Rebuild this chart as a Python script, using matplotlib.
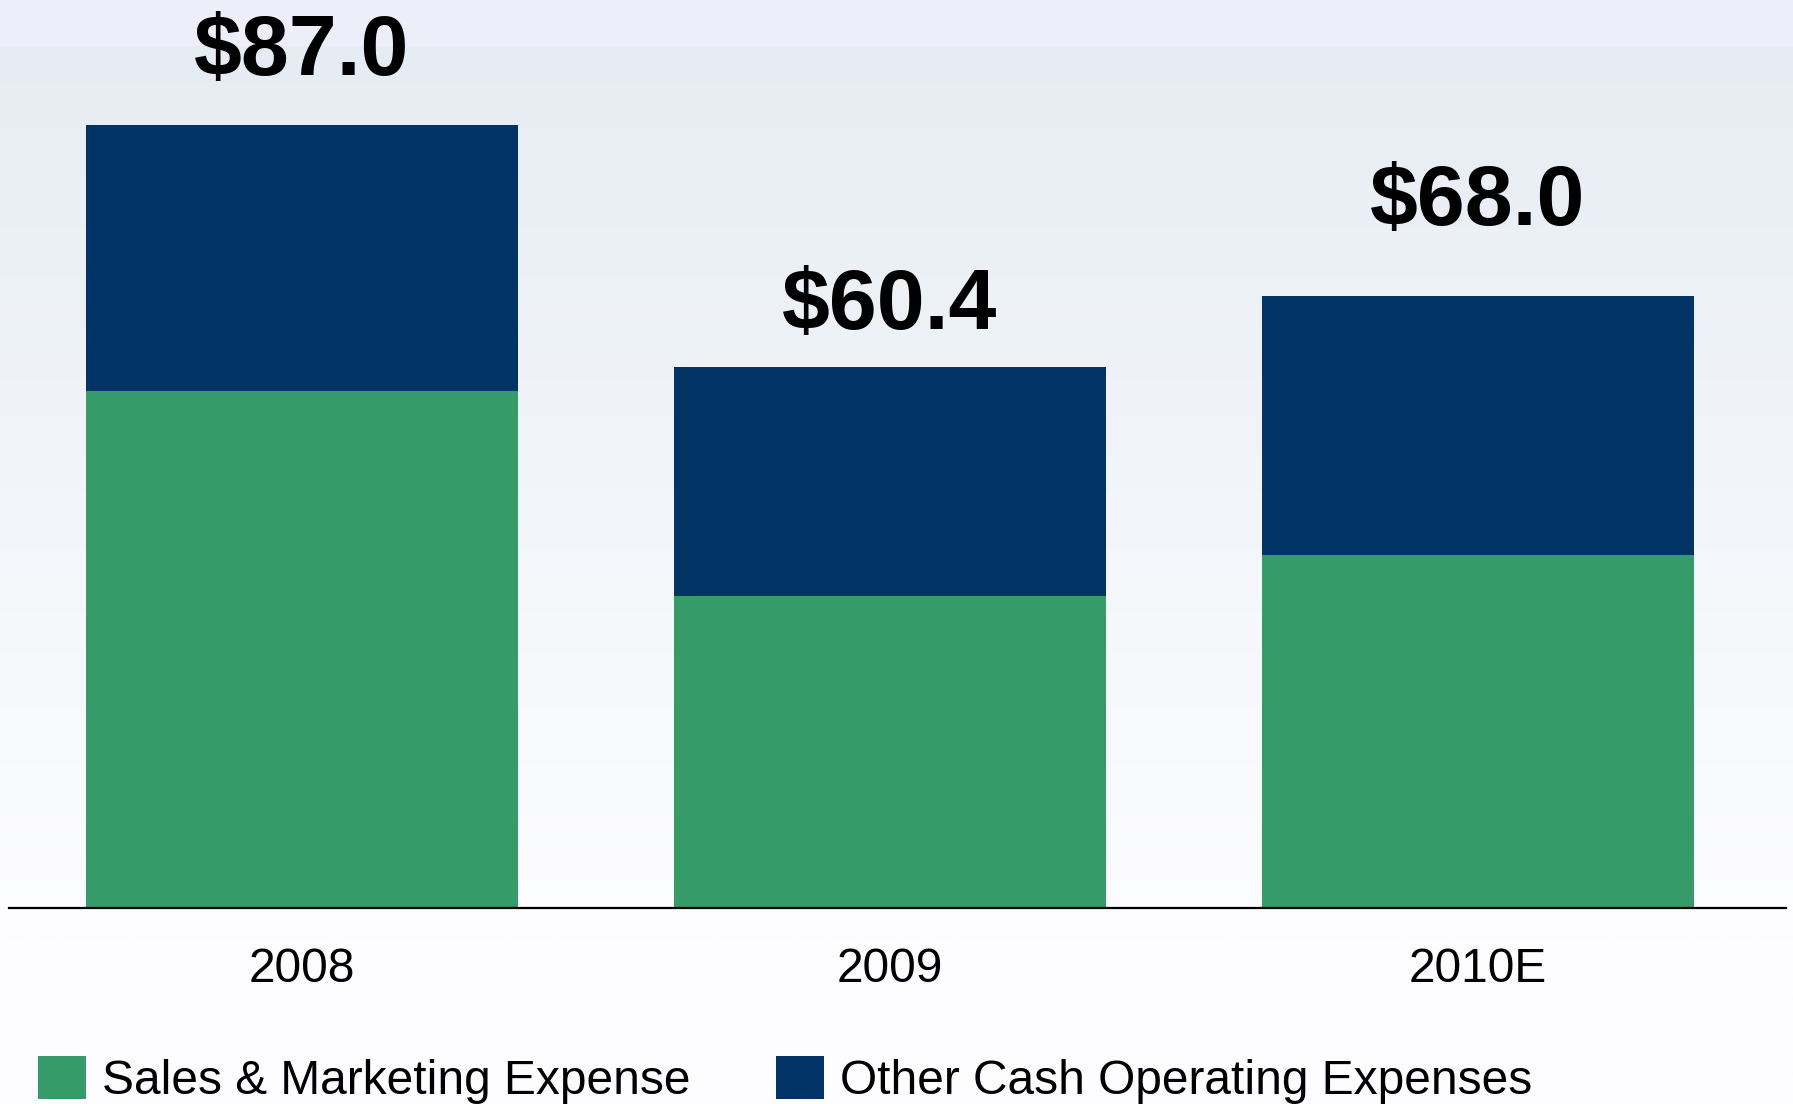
import numpy as np
import matplotlib
matplotlib.use("Agg")
import matplotlib.pyplot as plt
from matplotlib.patches import Rectangle

categories = ["2008", "2009", "2010E"]
sales_marketing = [57.5, 34.7, 39.2]
other_cash_opex = [29.5, 25.4, 28.8]
totals = [87.0, 60.4, 68.0]
total_labels = ["$87.0", "$60.4", "$68.0"]
legend_labels = ["Sales & Marketing Expense", "Other Cash Operating Expenses"]

GREEN = "#359B69"
NAVY = "#003366"

W, H, DPI = 1793, 1104, 100
fig = plt.figure(figsize=(W / DPI, H / DPI), dpi=DPI)
plt.rcParams["font.family"] = ["Liberation Sans", "DejaVu Sans"]

# background
bg = fig.add_axes([0, 0, 1, 1], zorder=0)
bg.set_axis_off()
n = 400
t = np.linspace(0, 1, n)[:, None]
top = np.array([228, 235, 242]) / 255.0
bot = np.array([253, 253, 255]) / 255.0
frac = np.clip(t / 0.85, 0, 1) ** 0.9
grad = top * (1 - frac) + bot * frac
img = np.repeat(grad[:, None, :], 2, axis=1).reshape(n, 2, 3)
bg.imshow(img, aspect="auto", extent=[0, 1, 0, 1], origin="upper")
bg.add_patch(Rectangle((0, 1 - 46 / H), 1, 46 / H, color="#EEEEFB", lw=0))
bg.set_xlim(0, 1)
bg.set_ylim(0, 1)

ax = fig.add_axes([9 / W, 196 / H, (1786 - 9) / W, 908 / H], zorder=1)
ax.patch.set_alpha(0)
x = np.arange(len(categories))
bw = 0.735
ax.bar(x, sales_marketing, bw, color=GREEN, label=legend_labels[0], zorder=2)
ax.bar(x, other_cash_opex, bw, bottom=sales_marketing, color=NAVY,
       label=legend_labels[1], zorder=2)
ax.set_xlim(-0.498, 2.524)
ax.set_ylim(0, 100.9)

label_offsets = [8.0, 6.4, 10.3]
for xi, tot, lab, off in zip(x, totals, total_labels, label_offsets):
    ax.text(xi, tot + off, lab, ha="center", va="center", fontsize=62,
            fontweight="bold", color="black")

for s in ["top", "right", "left"]:
    ax.spines[s].set_visible(False)
ax.spines["bottom"].set_linewidth(1.6)
ax.spines["bottom"].set_color("black")
ax.set_yticks([])
ax.set_xticks(x)
ax.set_xticklabels(categories, fontsize=34.5)
ax.tick_params(axis="x", length=0, pad=28)

leg = fig.legend(loc="center left", bbox_to_anchor=(38 / W, 24 / H), ncol=2,
                 fontsize=34.5, frameon=False, handlelength=1.0, handleheight=1.0,
                 handletextpad=0.33, columnspacing=1.8, borderaxespad=0,
                 borderpad=0)

fig.savefig("out.png", dpi=DPI)
